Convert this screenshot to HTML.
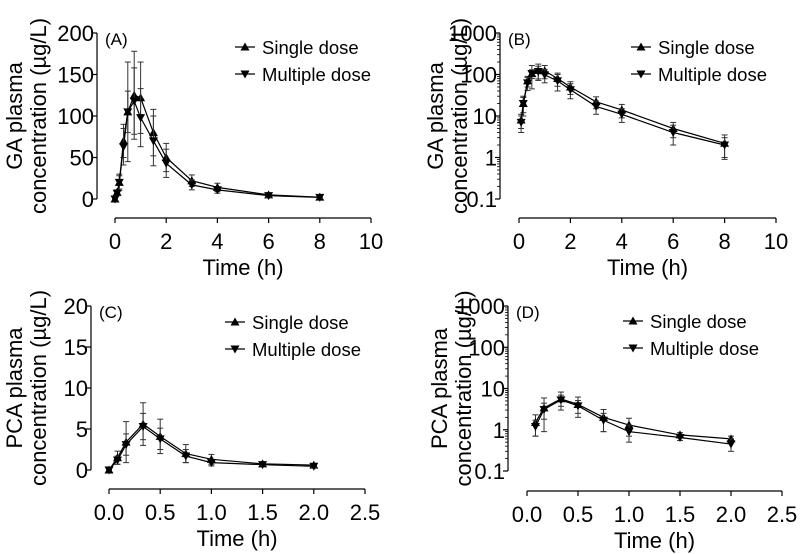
<!DOCTYPE html>
<html><head><meta charset="utf-8"><style>
body{margin:0;background:#fff;}
svg{display:block;font-family:"Liberation Sans",Arial,sans-serif;}
</style></head><body>
<svg id="fig" width="800" height="554" viewBox="0 0 800 554"></svg>
<script>
const gaTimes=[0,0.083,0.167,0.333,0.5,0.75,1,1.5,2,3,4,6,8];
const gaSingle=[0,8,20,70,105,125,122,80,50,22,14,5,2.2];
const gaSingleSd=[0,3,8,20,25,53,43,28,17,7,5,2,1.3];
const gaMultiple=[0,7,20,63,105,118,98,70,43,17,11,4,2];
const gaMultipleSd=[0,3,10,22,60,40,35,30,17,6,4,2,1];
const pcaTimes=[0,0.083,0.167,0.333,0.5,0.75,1,1.5,2];
const pcaSingle=[0,1.5,3.4,5.6,4.1,2.0,1.3,0.75,0.6];
const pcaSingleSd=[0.2,0.8,2.5,2.6,2.1,1.1,0.6,0.1,0.1];
const pcaMultiple=[0,1.2,3.1,5.3,3.8,1.7,0.9,0.65,0.45];
const pcaMultipleSd=[0.2,0.5,1.3,1.6,1.3,0.8,0.4,0.1,0.15];
const gaXTicks=[0,2,4,6,8,10];
const gaYTicks=[0,50,100,150,200];
const pcaXTicks=["0.0","0.5","1.0","1.5","2.0","2.5"];
const pcaYTicks=[0,5,10,15,20];
const logYTicks=["0.1","1","10","100","1000"];

const NS="http://www.w3.org/2000/svg";
const svg=document.getElementById('fig');
function el(tag,attrs,parent,text){const e=document.createElementNS(NS,tag);for(const k in attrs)e.setAttribute(k,attrs[k]);if(text!==undefined)e.textContent=text;(parent||svg).appendChild(e);return e;}

function panel(cfg){
  const g=el('g',{});
  
  
  const xs=v=>cfg.x0+(v-cfg.xmin)/(cfg.xmax-cfg.xmin)*(cfg.x1-cfg.x0);
  const ys=cfg.log?(v=>cfg.ybot+(Math.log10(v)+1)/4*(cfg.ytop-cfg.ybot)):(v=>cfg.ybot+(v/cfg.ymax)*(cfg.ytop-cfg.ybot));
  const ya=el('line',{x1:cfg.yax,y1:cfg.ytop,x2:cfg.yax,y2:cfg.ybot,stroke:'#000','stroke-width':1.2},g);
  
  const yt=cfg.log?logYTicks:cfg.yticks;
  yt.forEach(t=>{const y=ys(parseFloat(t));
    el('line',{x1:cfg.yax-5,y1:y,x2:cfg.yax,y2:y,stroke:'#000','stroke-width':1.2},g);
    const tx=el('text',{x:cfg.yax-3,y:y+8,'font-size':22,'text-anchor':'end'},g,String(t));
    
  });
  if(cfg.log){for(let d=-1;d<3;d++)for(let m=2;m<10;m++){const y=ys(m*Math.pow(10,d));el('line',{x1:cfg.yax-3,y1:y,x2:cfg.yax,y2:y,stroke:'#000','stroke-width':0.8},g);}}
  const xa=el('line',{x1:cfg.x0,y1:cfg.xay,x2:cfg.x1,y2:cfg.xay,stroke:'#000','stroke-width':1.2},g);
  
  cfg.xticks.forEach(t=>{const x=xs(parseFloat(t));
    el('line',{x1:x,y1:cfg.xay,x2:x,y2:cfg.xay+5,stroke:'#000','stroke-width':1.2},g);
    const tx=el('text',{x:x,y:cfg.xay+31,'font-size':22,'text-anchor':'middle'},g,String(t));
    
  });
  const xt=el('text',{x:(cfg.x0+cfg.x1)/2,y:cfg.xay+57,'font-size':22,'text-anchor':'middle'},g,'Time (h)');
  
  const yc=(cfg.ytop+cfg.ybot)/2;
  const t1=el('text',{x:0,y:0,'font-size':22,'text-anchor':'middle',transform:`translate(${cfg.tx1},${yc}) rotate(-90)`},g,cfg.ylab);
  
  const t2=el('text',{x:0,y:0,'font-size':22,'text-anchor':'middle',transform:`translate(${cfg.tx1+24},${yc}) rotate(-90)`},g,'concentration (\u00b5g/L)');
  
  const pl=el('text',{x:cfg.yax+8,y:cfg.ytop+12,'font-size':17},g,cfg.label);
  
  const series=[{v:cfg.s,sd:cfg.ssd,up:true,name:'single-dose'},{v:cfg.m,sd:cfg.msd,up:false,name:'multiple-dose'}];
  series.forEach(s=>{
    const sg=el('g',{},g);
    
    const pts=[];
    cfg.t.forEach((t,i)=>{const v=s.v[i];if(cfg.log&&v<=0)return;pts.push([xs(t),ys(v)]);
      let lo=v-s.sd[i],hi=v+s.sd[i];if(cfg.log&&lo<=0.1)lo=0.1;if(!cfg.log&&lo<0)lo=0;
      const x=xs(t);
      el('line',{x1:x,y1:ys(lo),x2:x,y2:ys(hi),stroke:'#333','stroke-width':1},sg);
      el('line',{x1:x-3,y1:ys(hi),x2:x+3,y2:ys(hi),stroke:'#333','stroke-width':1},sg);
      el('line',{x1:x-3,y1:ys(lo),x2:x+3,y2:ys(lo),stroke:'#333','stroke-width':1},sg);
    });
    el('polyline',{points:pts.map(p=>p.join(',')).join(' '),fill:'none',stroke:'#000','stroke-width':1.2},sg);
    pts.forEach(p=>{const [x,y]=p;const d=s.up?`M${x},${y-4.5}L${x+4.5},${y+3.5}L${x-4.5},${y+3.5}Z`:`M${x},${y+4.5}L${x+4.5},${y-3.5}L${x-4.5},${y-3.5}Z`;
      const m=el('path',{d:d,fill:'#000'},sg);});
  });
  [['Single dose',true],['Multiple dose',false]].forEach((L,i)=>{
    const lg=el('g',{},g);
    const y=cfg.ly+i*27,x=cfg.lx;
    el('line',{x1:x-10,y1:y,x2:x+10,y2:y,stroke:'#000','stroke-width':1.2},lg);
    el('path',{d:L[1]?`M${x},${y-4.5}L${x+4.5},${y+3.5}L${x-4.5},${y+3.5}Z`:`M${x},${y+4.5}L${x+4.5},${y-3.5}L${x-4.5},${y-3.5}Z`,fill:'#000'},lg);
    el('text',{x:x+17,y:y+7,'font-size':18.5},lg,L[0]);
  });
}
panel({name:'panel-a',label:'(A)',ylab:'GA plasma',t:gaTimes,s:gaSingle,ssd:gaSingleSd,m:gaMultiple,msd:gaMultipleSd,
  yax:97,ytop:33,ybot:199,ymax:200,yticks:gaYTicks,x0:115,x1:371,xmin:0,xmax:10,xticks:gaXTicks,xay:218,tx1:22,lx:245,ly:47});
panel({name:'panel-b',label:'(B)',ylab:'GA plasma',log:true,t:gaTimes,s:gaSingle,ssd:gaSingleSd,m:gaMultiple,msd:gaMultipleSd,
  yax:500,ytop:33,ybot:199,x0:519,x1:776,xmin:0,xmax:10,xticks:gaXTicks,xay:218,tx1:443,lx:641,ly:47});
panel({name:'panel-c',label:'(C)',ylab:'PCA plasma',t:pcaTimes,s:pcaSingle,ssd:pcaSingleSd,m:pcaMultiple,msd:pcaMultipleSd,
  yax:91,ytop:306,ybot:470,ymax:20,yticks:pcaYTicks,x0:109,x1:365,xmin:0,xmax:2.5,xticks:pcaXTicks,xay:489,tx1:22,lx:235,ly:322});
panel({name:'panel-d',label:'(D)',ylab:'PCA plasma',log:true,t:pcaTimes,s:pcaSingle,ssd:pcaSingleSd,m:pcaMultiple,msd:pcaMultipleSd,
  yax:508,ytop:306,ybot:471,x0:527,x1:782,xmin:0,xmax:2.5,xticks:pcaXTicks,xay:491,tx1:447,lx:633,ly:321});
</script>
</body></html>
